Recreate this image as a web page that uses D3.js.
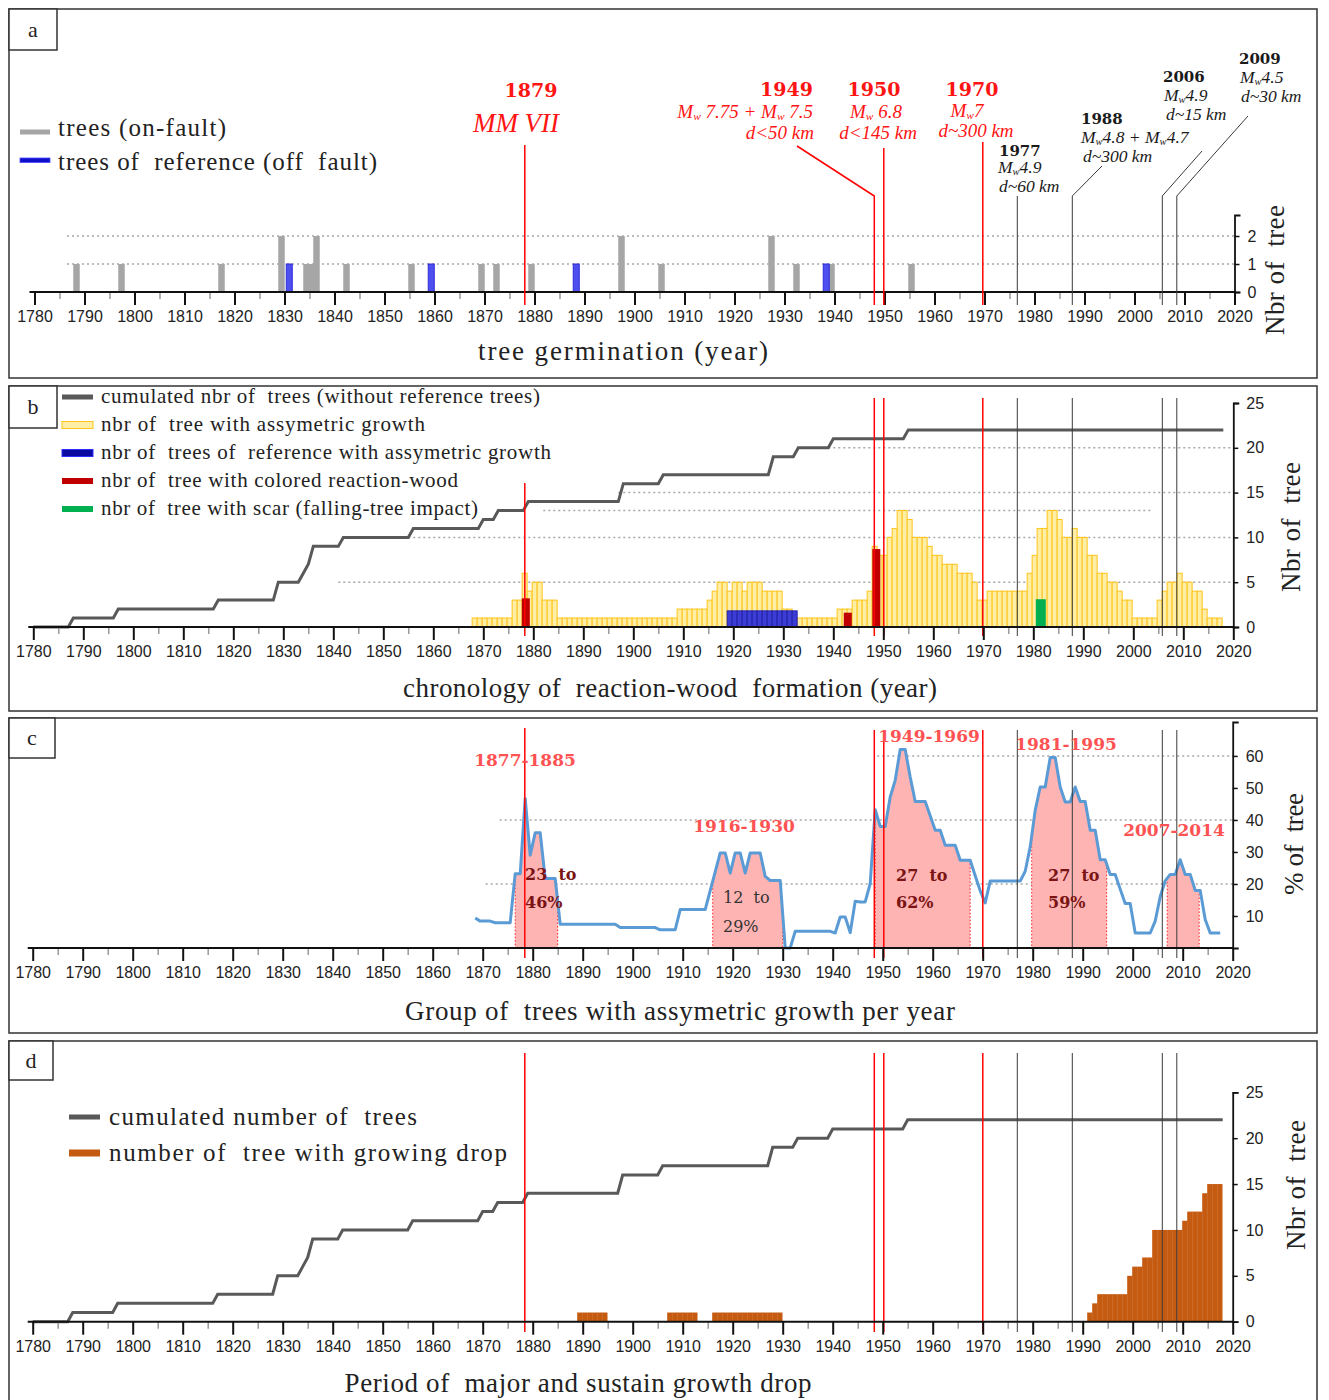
<!DOCTYPE html>
<html><head><meta charset="utf-8">
<script src="https://cdn.jsdelivr.net/npm/d3@7"></script>
<style>body{margin:0;background:#fff} svg{display:block} text{white-space:pre}</style>
</head><body>
<svg id="c" width="1329" height="1400" xmlns="http://www.w3.org/2000/svg"></svg>
<script>
// ---------------- DATA ----------------
const germYears  = [1788,1797,1817,1829,1834,1835,1836,1842,1855,1869,1872,1879,1897,1905,1927,1932,1939,1955];
const germCounts = [1,1,1,2,1,1,2,1,1,1,1,1,2,1,2,1,1,1];
const refGermYears  = [1830.6,1859,1888,1938];
const refGermCounts = [1,1,1,1];

const cumYears  = [1780,1787,1788,1796,1797,1816,1817,1828,1829,1833,1834,1835,1836,1841,1842,1855,1856,1869,1870,1872,1873,1878,1879,1897,1898,1905,1906,1927,1928,1932,1933,1939,1940,1954,1955,2018];
const cumValues = [0,0,1,1,2,2,3,3,5,5,6,7,9,9,10,10,11,11,12,12,13,13,14,14,16,16,17,17,19,19,20,20,21,21,22,22];

const asymYears = d3.range(1868, 2018);
const asymValues = [1,1,1,1,1,1,1,1,
  3,3,6,4,5,5,3,3,3,
  1,1,1,1,1,1,1,1,1,1,1,1,1,1,1,1,1,1,1,1,1,1,1,1,
  2,2,2,2,2,2,
  3,4,5,5,4,5,5,4,5,5,5,4,4,4,4,
  2,2,1,
  1,1,1,1,1,1,1,1,
  2,2,2,3,3,3,4,
  9,8,8,10,11,13,13,12,10,10,10,9,8,8,7,7,7,6,6,6,5,3,3,
  4,4,4,4,4,4,4,4,
  6,8,11,11,13,13,12,10,10,11,10,10,8,8,6,6,5,5,4,3,3,
  1,1,1,1,1,
  3,4,5,5,6,5,5,4,4,2,1,1,1];
const refAsymYears  = [1919,1920,1921,1922,1923,1924,1925,1926,1927,1928,1929,1930,1931,1932];
const refAsymValues = [1.8,1.8,1.8,1.8,1.8,1.8,1.8,1.8,1.8,1.8,1.8,1.8,1.8,1.8];
const colorWoodStart = [1877.7,1942.1,1947.8];
const colorWoodValues = [3.2,1.6,8.7];
const scarStart = [1980.5];
const scarValues = [3.1];

const pctYears = d3.range(1868, 2018);
const pctValues = [9.4,8.4,8.4,8.4,7.9,7.9,7.9,7.9,
  23.2,23.2,46.7,29,36,36,21.7,21.7,21.7,
  7.4,7.4,7.4,7.4,7.4,7.4,7.4,7.4,7.4,7.4,7.4,7.4,
  6.4,6.4,6.4,6.4,6.4,6.4,6.4,6.4,
  5.7,5.7,5.7,5.7,
  12,12,12,12,12,12,
  17.9,23.8,29.7,29.7,23.4,29.7,29.7,23.4,29.7,29.7,29.7,22.4,21.1,21.1,21.1,0,0,
  5.2,5.2,5.2,5.2,5.2,5.2,5.2,5.2,
  4.7,9.7,9.7,4.8,14.6,14.4,14.4,20.1,
  43.2,38,38,47.2,52.4,62,62,53.4,45.8,45.8,45.8,41.3,36.8,36.8,32.1,32.1,32.1,27.4,27.4,27.4,22.6,17.9,14.1,
  20.9,20.9,20.9,20.9,20.9,20.9,20.9,
  24,31.6,43,50.3,50.3,59.5,59.5,50.3,45.6,45.6,50.3,45.8,45.8,36.8,36.8,27.6,27.6,23,23,18.4,13.9,13.9,
  4.7,4.7,4.7,4.7,
  8.4,16,21,23,23,27.6,23,23,18,18,8.9,4.7,4.7,4.7];

const periodLabels = ['1877-1885','1916-1930','1949-1969','1981-1995','2007-2014'];
const periodFrom   = [1876.5,1916.0,1948.5,1979.8,2006.9];
const periodTo     = [1885.0,1930.0,1967.5,1994.8,2013.3];
const periodLow    = ['23  to','12  to','27  to','27  to',null];
const periodHigh   = ['46%','29%','62%','59%',null];

const dropYears = [1889,1890,1891,1892,1893,1894,1907,1908,1909,1910,1911,1912,
  1916,1917,1918,1919,1920,1921,1922,1923,1924,1925,1926,1927,1928,1929,
  1991,1992,1993,1994,1995,1996,1997,1998,1999,2000,2001,2002,2003,2004,2005,2006,2007,2008,2009,2010,2011,2012,2013,2014,2015,2016,2017];
const dropValues = [1,1,1,1,1,1,1,1,1,1,1,1,
  1,1,1,1,1,1,1,1,1,1,1,1,1,1,
  1,2,3,3,3,3,3,3,5,6,6,7,7,10,10,10,10,10,10,11,12,12,12,14,15,15,15];

const eventYears = ['1879','1949','1950','1970','1977','1988','2006','2009'];
const eventAt    = [1878.3,1948.2,1950.1,1969.9,1976.8,1987.8,2005.8,2008.7];
const eventMajor = [true,true,true,true,false,false,false,false];
const eventMag   = ['MM VII','M_w 7.75 + M_w 7.5','M_w 6.8','M_w7','M_w4.9','M_w4.8 + M_w4.7','M_w4.9','M_w4.5'];
const eventDist  = ['','d<50 km','d<145 km','d~300 km','d~60 km','d~300 km','d~15 km','d~30 km'];

const xTickMajor = [1780,1790,1800,1810,1820,1830,1840,1850,1860,1870,1880,1890,1900,1910,1920,1930,1940,1950,1960,1970,1980,1990,2000,2010,2020];
const xTickMinor = [1785,1795,1805,1815,1825,1835,1845,1855,1865,1875,1885,1895,1905,1915,1925,1935,1945,1955,1965,1975,1985,1995,2005,2015];

// ---------------- SETUP ----------------
const svg = d3.select('#c');
const SERIF = "'Liberation Serif','Times New Roman',serif";
const CM = "'DejaVu Serif',serif";
const SANS = "'Liberation Sans',Arial,sans-serif";
const RED = '#ff0000', BLK = '#3a3a3a', GRAYL = '#595959';

function txt(g, x, y, s, o = {}) {
  const t = g.append('text').attr('x', x).attr('y', y)
    .attr('font-family', o.family || SERIF).attr('font-size', o.size || 20)
    .attr('fill', o.fill || '#222').attr('text-anchor', o.anchor || 'start')
    .attr('xml:space', 'preserve');
  if (o.weight) t.attr('font-weight', o.weight);
  if (o.style) t.attr('font-style', o.style);
  if (o.rotate) t.attr('transform', `rotate(${o.rotate},${x},${y})`);
  t.text(s);
  if (o.width) t.attr('textLength', o.width).attr('lengthAdjust', 'spacing');
  return t;
}
function frame(y, h, letter, bw, bh) {
  svg.append('rect').attr('x', 9).attr('y', y).attr('width', 1308).attr('height', h)
    .attr('fill', 'none').attr('stroke', '#333').attr('stroke-width', 1.5);
  svg.append('rect').attr('x', 9).attr('y', y).attr('width', bw).attr('height', bh)
    .attr('fill', '#fff').attr('stroke', '#333').attr('stroke-width', 1.5);
  txt(svg, 9 + bw / 2, y + bh / 2 + 7, letter, {size: 22, anchor: 'middle', fill: '#222'});
}
function xAxis(g, x, y0) {
  const mi = g.append('g').attr('transform', `translate(0,${y0})`)
    .call(d3.axisBottom(x).tickValues(xTickMinor).tickSize(7).tickFormat(''));
  mi.select('.domain').remove();
  mi.selectAll('.tick line').attr('stroke', '#999').attr('stroke-width', 1.5);
  const ax = g.append('g').attr('transform', `translate(0,${y0})`)
    .call(d3.axisBottom(x).tickValues(xTickMajor).tickSize(13).tickPadding(6).tickFormat(d3.format('d')));
  ax.select('.domain').remove();
  ax.selectAll('.tick line').attr('stroke', '#111').attr('stroke-width', 2);
  ax.selectAll('text').attr('font-family', SANS).attr('font-size', 16).attr('fill', '#222');
  g.append('line').attr('x1', x.range()[0] - 5).attr('x2', x.range()[1] + 1)
    .attr('y1', y0).attr('y2', y0).attr('stroke', '#111').attr('stroke-width', 2);
}
function yAxis(g, y, xp, ticks) {
  const ax = g.append('g').attr('transform', `translate(${xp},0)`)
    .call(d3.axisRight(y).tickValues(ticks).tickSize(5).tickSizeOuter(6).tickPadding(8).tickFormat(d3.format('d')));
  ax.select('.domain').attr('stroke', '#111').attr('stroke-width', 1.8);
  ax.selectAll('.tick line').attr('stroke', '#111').attr('stroke-width', 1.5);
  ax.selectAll('text').attr('font-family', SANS).attr('font-size', 16).attr('fill', '#222');
}
function grid(g, x, y, v, from, to) {
  g.append('line').attr('x1', x(from)).attr('x2', x(to)).attr('y1', y(v)).attr('y2', y(v))
    .attr('stroke', '#a8a8a8').attr('stroke-width', 1.5).attr('stroke-dasharray', '2,3');
}
const xe = d3.scaleLinear().domain([1780, 2020]).range([33.3, 1233.3]);
function eventLines(g, top, bottom, top1879) {
  eventAt.forEach((yr, i) => {
    g.append('line').attr('x1', xe(yr)).attr('x2', xe(yr))
      .attr('y1', i === 0 ? top1879 : top).attr('y2', bottom)
      .attr('stroke', eventMajor[i] ? RED : BLK).attr('stroke-width', eventMajor[i] ? 1.5 : 1);
  });
}
const cumData = cumYears.map((y, i) => ({y, v: cumValues[i]}));

// ================= PANEL A =================
frame(9, 369, 'a', 48, 41);
const ga = svg.append('g');
const xa = d3.scaleLinear().domain([1780, 2020]).range([34.5, 1234.5]);
const ya = d3.scaleLinear().domain([0, 2.75]).range([292, 215]);
grid(ga, xa, ya, 1, 1786.5, 2020);
grid(ga, xa, ya, 2, 1786.5, 2020);
ga.selectAll('rect.g').data(germYears.map((y, i) => ({y, v: germCounts[i]}))).join('rect')
  .attr('x', d => xa(d.y - 0.25)).attr('width', xa(1781.3) - xa(1780))
  .attr('y', d => ya(d.v)).attr('height', d => ya(0) - ya(d.v)).attr('fill', '#a6a6a6');
ga.selectAll('rect.r').data(refGermYears.map((y, i) => ({y, v: refGermCounts[i]}))).join('rect')
  .attr('x', d => xa(d.y - 0.25)).attr('width', xa(1781.2) - xa(1780))
  .attr('y', d => ya(d.v)).attr('height', d => ya(0) - ya(d.v))
  .attr('fill', '#4f4ff0').attr('stroke', '#2b2bd8').attr('stroke-width', 1);
xAxis(ga, xa, 292);
yAxis(ga, ya, xa(2020), [0, 1, 2]);
// legend a
ga.append('rect').attr('x', 20).attr('y', 129.5).attr('width', 30).attr('height', 5).attr('fill', '#a6a6a6');
ga.append('rect').attr('x', 20).attr('y', 158).attr('width', 30).attr('height', 4.5).attr('fill', '#1010c8').attr('stroke', '#4a4aff').attr('stroke-width', 0.8);
txt(ga, 58, 136, 'trees (on-fault)', {size: 25, width: 168});
txt(ga, 58, 170, 'trees of  reference (off  fault)', {size: 25, width: 319});
txt(ga, 623, 360, 'tree germination (year)', {size: 27, anchor: 'middle', width: 290});
txt(ga, 1284, 270, 'Nbr of  tree', {size: 27, anchor: 'middle', rotate: -90, width: 130});

// event leaders in panel a
const leaderTops = [[xe(1878.3), 145], [797, 146], [xe(1950.1), 148], [xe(1969.9), 142], [xe(1976.8), 196], [1102, 166], [1202, 151], [1248, 116]];
eventAt.forEach((yr, i) => {
  const xv = xe(yr), [tx, ty] = leaderTops[i];
  const pts = tx === xv ? [[xv, ty], [xv, 305]] : [[tx, ty], [xv, 196], [xv, 305]];
  ga.append('path').attr('d', d3.line()(pts)).attr('fill', 'none')
    .attr('stroke', eventMajor[i] ? RED : BLK).attr('stroke-width', eventMajor[i] ? 1.5 : 1);
});
// event labels: one text element per event, one tspan row per line
const evLayout = [
  [[531, 97, 'middle'], [516, 132, 'middle']],
  [[813, 96, 'end'], [813, 118, 'end'], [814, 139, 'end']],
  [[874, 96, 'middle'], [876, 118, 'middle'], [878, 139, 'middle']],
  [[972, 96, 'middle'], [967, 117, 'middle'], [976, 137, 'middle']],
  [[999, 155.5], [998, 173], [999, 191.5]],
  [[1081, 123.5], [1081, 142.5], [1083, 162]],
  [[1163, 81.5], [1164, 100.5], [1166, 120]],
  [[1239, 63.5], [1240, 82.5], [1241, 102]]
];
eventYears.forEach((ey, i) => {
  const L = evLayout[i], col = eventMajor[i] ? '#ff1414' : '#1a1a1a';
  const t = ga.append('text').attr('fill', col).attr('xml:space', 'preserve');
  t.append('tspan').attr('x', L[0][0]).attr('y', L[0][1]).attr('text-anchor', L[0][2] || 'start')
    .attr('font-family', CM).attr('font-weight', 'bold').attr('font-size', eventMajor[i] ? 19 : 15).text(ey);
  if (i === 0) {
    t.append('tspan').attr('x', L[1][0]).attr('y', L[1][1]).attr('text-anchor', 'middle')
      .attr('font-family', SERIF).attr('font-style', 'italic').attr('font-size', 27).text(eventMag[i]);
    return;
  }
  const fs = eventMajor[i] ? 19 : 17.5;
  const parts = eventMag[i].split('M_w');
  let first = true;
  const row = (s, extra = {}) => {
    const sp = t.append('tspan').attr('font-family', SERIF).attr('font-style', 'italic').attr('font-size', fs);
    if (first) { sp.attr('x', L[1][0]).attr('y', L[1][1]).attr('text-anchor', L[1][2] || 'start'); first = false; }
    Object.entries(extra).forEach(([k, v]) => sp.attr(k, v));
    sp.text(s);
  };
  parts.forEach((p, k) => {
    if (k > 0) {
      row('M');
      row('w', {'font-size': fs * 0.6, dy: 2});
      row(p, {dy: -2});
    } else if (p) row(p);
  });
  t.append('tspan').attr('x', L[2][0]).attr('y', L[2][1]).attr('text-anchor', L[2][2] || 'start')
    .attr('font-family', SERIF).attr('font-style', 'italic').attr('font-size', fs).text(eventDist[i]);
});

// ================= PANEL B =================
frame(386, 325, 'b', 48, 42);
const gb = svg.append('g');
const xb = d3.scaleLinear().domain([1780, 2020]).range([33.3, 1233.3]);
const yb = d3.scaleLinear().domain([0, 25]).range([627, 403]);
grid(gb, xb, yb, 5, 1841, 2020);
grid(gb, xb, yb, 10, 1843, 2020);
grid(gb, xb, yb, 13, 1882, 2004);
grid(gb, xb, yb, 15, 1897, 2020);
grid(gb, xb, yb, 20, 1939, 2020);
const bw = xb(1781) - xb(1780);
gb.selectAll('rect.a').data(asymYears.map((y, i) => ({y, v: asymValues[i]}))).join('rect')
  .attr('x', d => xb(d.y - 0.23)).attr('width', bw)
  .attr('y', d => yb(d.v)).attr('height', d => yb(0) - yb(d.v))
  .attr('fill', '#ffeea6').attr('stroke', '#ffc41a').attr('stroke-width', 1);
gb.selectAll('rect.ra').data(refAsymYears.map((y, i) => ({y, v: refAsymValues[i]}))).join('rect')
  .attr('x', d => xb(d.y - 0.23)).attr('width', bw)
  .attr('y', d => yb(d.v)).attr('height', d => yb(0) - yb(d.v))
  .attr('fill', '#3c3cd6').attr('stroke', '#2222a8').attr('stroke-width', 1);
gb.selectAll('rect.cw').data(colorWoodStart.map((y, i) => ({y, v: colorWoodValues[i]}))).join('rect')
  .attr('x', d => xb(d.y)).attr('width', xb(1781.6) - xb(1780))
  .attr('y', d => yb(d.v)).attr('height', d => yb(0) - yb(d.v)).attr('fill', '#c00000');
gb.selectAll('rect.sc').data(scarStart.map((y, i) => ({y, v: scarValues[i]}))).join('rect')
  .attr('x', d => xb(d.y)).attr('width', xb(1782) - xb(1780))
  .attr('y', d => yb(d.v)).attr('height', d => yb(0) - yb(d.v)).attr('fill', '#00b050');
gb.append('path').datum(cumData).attr('d', d3.line().x(d => xb(d.y)).y(d => yb(d.v)))
  .attr('fill', 'none').attr('stroke', GRAYL).attr('stroke-width', 3);
eventLines(gb, 398, 636, 483);
xAxis(gb, xb, 627);
yAxis(gb, yb, xb(2020), [0, 5, 10, 15, 20, 25]);
// legend b
const legB = [
  ['cumulated nbr of  trees (without reference trees)', 439, g => g.attr('fill', GRAYL).attr('height', 5)],
  ['nbr of  tree with assymetric growth', 324, g => g.attr('fill', '#ffeea6').attr('stroke', '#ffc41a').attr('height', 7)],
  ['nbr of  trees of  reference with assymetric growth', 450, g => g.attr('fill', '#0a0aa0').attr('stroke', '#2d2dff').attr('height', 7)],
  ['nbr of  tree with colored reaction-wood', 357, g => g.attr('fill', '#c00000').attr('height', 6)],
  ['nbr of  tree with scar (falling-tree impact)', 377, g => g.attr('fill', '#00b050').attr('height', 6)]
];
legB.forEach((l, i) => {
  const cy = 397 + i * 28;
  const r = gb.append('rect').attr('x', 62).attr('width', 31);
  l[2](r);
  r.attr('y', cy - (+r.attr('height')) / 2);
  txt(gb, 101, cy + 6, l[0], {size: 21, width: l[1]});
});
txt(gb, 670, 697, 'chronology of  reaction-wood  formation (year)', {size: 27, anchor: 'middle', width: 534});
txt(gb, 1300, 527, 'Nbr of  tree', {size: 27, anchor: 'middle', rotate: -90, width: 130});

// ================= PANEL C =================
frame(718, 315, 'c', 46, 40);
const gc = svg.append('g');
const xc = d3.scaleLinear().domain([1780, 2020]).range([32.7, 1232.7]);
const yc = d3.scaleLinear().domain([0, 60]).range([948, 756]);
grid(gc, xc, yc, 20, 1870.6, 2020);
grid(gc, xc, yc, 40, 1873.4, 2020);
grid(gc, xc, yc, 60, 1948.9, 2020);
const pctData = pctYears.map((y, i) => ({y: y + 0.5, v: pctValues[i]}));
function pctAt(yr) {
  for (let i = 0; i < pctData.length - 1; i++) {
    const a = pctData[i], b = pctData[i + 1];
    if (yr >= a.y && yr <= b.y) return a.v + (b.v - a.v) * (yr - a.y) / (b.y - a.y);
  }
  return 0;
}
const defs = svg.append('defs');
periodLabels.forEach((lab, i) => {
  defs.append('clipPath').attr('id', 'pc' + i).append('rect')
    .attr('x', xc(periodFrom[i])).attr('width', xc(periodTo[i]) - xc(periodFrom[i]))
    .attr('y', 700).attr('height', 260);
  gc.append('path').datum(pctData).attr('clip-path', `url(#pc${i})`)
    .attr('d', d3.area().x(d => xc(d.y)).y0(yc(0)).y1(d => yc(d.v)))
    .attr('fill', '#ffb4b4');
  [periodFrom[i], periodTo[i]].forEach(yr => {
    gc.append('line').attr('x1', xc(yr)).attr('x2', xc(yr)).attr('y1', yc(pctAt(yr))).attr('y2', yc(0))
      .attr('stroke', '#ff2020').attr('stroke-width', 1).attr('stroke-dasharray', '1.5,2');
  });
});
gc.append('path').datum(pctData).attr('d', d3.line().x(d => xc(d.y)).y(d => yc(d.v)))
  .attr('fill', 'none').attr('stroke', '#5b9bd5').attr('stroke-width', 3).attr('stroke-linejoin', 'round');
eventLines(gc, 730, 958, 728);
xAxis(gc, xc, 948);
const ycAx = d3.scaleLinear().domain([0, 70.6]).range([948, 722]);
yAxis(gc, ycAx, xc(2020), [10, 20, 30, 40, 50, 60]);
const pLab = [[525, 766], [744, 832], [929, 742], [1066, 750], [1174, 836]];
const pPct = [[525, 880, 908], [723, 903, 932], [896, 881, 908], [1048, 881, 908]];
periodLabels.forEach((lab, i) => {
  txt(gc, pLab[i][0], pLab[i][1], lab, {family: CM, weight: 'bold', size: 17, fill: '#ff5252', anchor: 'middle'});
  if (periodLow[i]) {
    const dark = i !== 1;
    const o = {family: CM, size: 16, fill: dark ? '#7a1414' : '#333', weight: dark ? 'bold' : null};
    txt(gc, pPct[i][0], pPct[i][1], periodLow[i], o);
    txt(gc, pPct[i][0], pPct[i][2], periodHigh[i], o);
  }
});
txt(gc, 680, 1020, 'Group of  trees with assymetric growth per year', {size: 27, anchor: 'middle', width: 550});
txt(gc, 1303, 844, '% of  tree', {size: 27, anchor: 'middle', rotate: -90, width: 102});

// ================= PANEL D =================
frame(1041, 380, 'd', 44, 39);
const gd = svg.append('g');
const xd = d3.scaleLinear().domain([1780, 2020]).range([32.7, 1232.7]);
const yd = d3.scaleLinear().domain([0, 25]).range([1321.7, 1092.3]);
gd.selectAll('rect.o').data(dropYears.map((y, i) => ({y, v: dropValues[i]}))).join('rect')
  .attr('x', d => xd(d.y - 0.1)).attr('width', xd(1781) - xd(1780) + 0.3)
  .attr('y', d => yd(d.v)).attr('height', d => yd(0) - yd(d.v))
  .attr('fill', '#c55a11');
gd.append('path').datum(cumData).attr('d', d3.line().x(d => xd(d.y)).y(d => yd(d.v)))
  .attr('fill', 'none').attr('stroke', GRAYL).attr('stroke-width', 3);
eventLines(gd, 1053, 1332, 1053);
xAxis(gd, xd, 1321.7);
yAxis(gd, yd, xd(2020), [0, 5, 10, 15, 20, 25]);
gd.append('rect').attr('x', 69).attr('y', 1114.5).attr('width', 31).attr('height', 5).attr('fill', GRAYL);
gd.append('rect').attr('x', 69).attr('y', 1149.5).attr('width', 31).attr('height', 7).attr('fill', '#c55a11');
txt(gd, 109, 1125, 'cumulated number of  trees', {size: 25, width: 308});
txt(gd, 109, 1161, 'number of  tree with growing drop', {size: 25, width: 398});
txt(gd, 578, 1392, 'Period of  major and sustain growth drop', {size: 27, anchor: 'middle', width: 467});
txt(gd, 1305, 1185, 'Nbr of  tree', {size: 27, anchor: 'middle', rotate: -90, width: 130});
</script>
</body></html>
